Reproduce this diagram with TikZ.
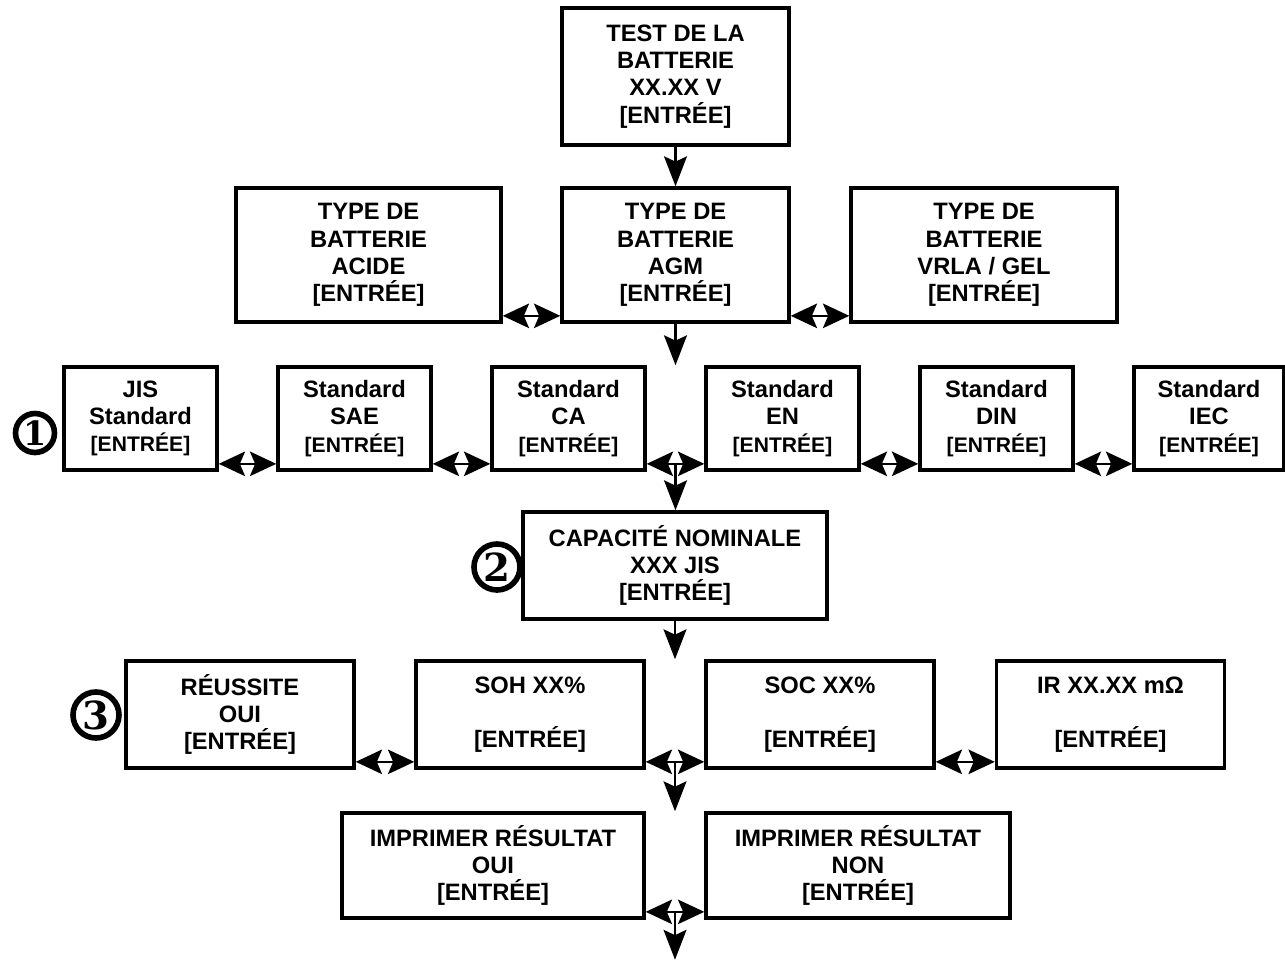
\documentclass[tikz,border=0pt]{standalone}
\usepackage{fontspec}
\setmainfont{Liberation Sans}
\newfontfamily\numfont{DejaVu Serif}
\usetikzlibrary{calc,arrows.meta}
\newcommand\entr{[ENTRÉE]}
\newcommand\sentr{{\fontsize{12}{14}\selectfont[ENTRÉE]}}
\begin{document}
\begin{tikzpicture}[x=0.02cm,y=-0.02cm,
  box/.style={draw,line width=2pt,align=center,inner sep=0pt,font=\bfseries\fontsize{13.5}{15.5}\selectfont},
  dbl/.style={{Stealth[length=15pt,width=14pt,inset=3pt]}-{Stealth[length=15pt,width=14pt,inset=3pt]},line width=1.1pt},
  down/.style={-{Stealth[length=17pt,width=13pt,inset=3pt]},line width=1.5pt},
  num/.style={circle,draw,line width=3.2pt,inner sep=0pt,font=\numfont\bfseries\fontsize{22}{22}\selectfont}]
\useasboundingbox (0,0) rectangle (1285,960);
% battery test
\node[box,minimum width=4.54cm,minimum height=2.74cm] (test) at (675.5,76.5) {TEST DE LA\\BATTERIE\\XX.XX V\\\entr};
% battery type
\node[box,minimum width=5.3cm,minimum height=2.68cm] (acide) at (368.5,255) {TYPE DE\\BATTERIE\\ACIDE\\\entr};
\node[box,minimum width=4.54cm,minimum height=2.68cm] (agm) at (675.5,255) {TYPE DE\\BATTERIE\\AGM\\\entr};
\node[box,minimum width=5.32cm,minimum height=2.68cm] (vrla) at (984,255) {TYPE DE\\BATTERIE\\VRLA / GEL\\\entr};
% standards
\node[box,minimum width=3.06cm,minimum height=2.06cm] (jis) at (140.5,418.5) {JIS\\Standard\\\sentr};
\node[box,minimum width=3.06cm,minimum height=2.06cm] (sae) at (354.5,418.5) {Standard\\SAE\\\sentr};
\node[box,minimum width=3.06cm,minimum height=2.06cm] (ca) at (568.5,418.5) {Standard\\CA\\\sentr};
\node[box,minimum width=3.06cm,minimum height=2.06cm] (en) at (782.5,418.5) {Standard\\EN\\\sentr};
\node[box,minimum width=3.06cm,minimum height=2.06cm] (din) at (996.5,418.5) {Standard\\DIN\\\sentr};
\node[box,minimum width=3.0cm,minimum height=2.06cm] (iec) at (1209,418.5) {Standard\\IEC\\\sentr};
% rated capacity
\node[box,minimum width=6.08cm,minimum height=2.14cm] (cap) at (675,565.5) {CAPACITÉ NOMINALE\\XXX JIS\\\entr};
% results
\node[box,minimum width=4.56cm,minimum height=2.14cm] (ok) at (240,714.5) {RÉUSSITE\\OUI\\\entr};
\node[box,minimum width=4.56cm,minimum height=2.14cm] (soh) at (530,714.5) {SOH XX\%\\\mbox{}\\\entr};
\node[box,minimum width=4.56cm,minimum height=2.14cm] (soc) at (820,714.5) {SOC XX\%\\\mbox{}\\\entr};
\node[box,minimum width=4.56cm,minimum height=2.14cm] (ir) at (1110.5,714.5) {IR XX.XX mΩ\\\mbox{}\\\entr};
% print
\node[box,minimum width=6.04cm,minimum height=2.1cm] (pOui) at (493,865.5) {IMPRIMER RÉSULTAT\\OUI\\\entr};
\node[box,minimum width=6.08cm,minimum height=2.1cm] (pNon) at (858,865.5) {IMPRIMER RÉSULTAT\\NON\\\entr};
% step numbers
\node[num,minimum size=0.78cm,font=\numfont\bfseries\fontsize{19}{19}\selectfont] (n1) at (35,433) {1};
\node[num,minimum size=0.92cm] (n2) at (497,567) {2};
\node[num,minimum size=0.92cm] (n3) at (96,715) {3};
% arrows
\draw[down] (test) -- (agm);
\draw[dbl] ([yshift=4.5pt]acide.south east) -- ([yshift=4.5pt]agm.south west);
\draw[dbl] ([yshift=4.5pt]agm.south east) -- ([yshift=4.5pt]vrla.south west);
\coordinate (r3) at (agm.south |- ca.north);
\draw[down] (agm.south) -- (r3);
\foreach \a/\b in {jis/sae,sae/ca,ca/en,en/din,din/iec}
  \draw[dbl] ([yshift=4.5pt]\a.south east) -- ([yshift=4.5pt]\b.south west);
\coordinate (m3) at ($(ca.south east)!0.5!(en.south west)+(0,-9)$);
\draw[down] (m3) -- (m3 |- cap.north);
\draw[down] (cap.south) -- (cap.south |- soh.north);
\foreach \a/\b in {ok/soh,soh/soc,soc/ir}
  \draw[dbl] ([yshift=4.5pt]\a.south east) -- ([yshift=4.5pt]\b.south west);
\coordinate (m4) at ($(soh.south east)!0.5!(soc.south west)+(0,-8)$);
\draw[down] (m4) -- (m4 |- pOui.north);
\draw[dbl] ([yshift=4.5pt]pOui.south east) -- ([yshift=4.5pt]pNon.south west);
\coordinate (m5) at ($(pOui.south east)!0.5!(pNon.south west)+(0,-8)$);
\coordinate (fin) at ($(m5)+(0,48)$);
\draw[down] (m5) -- (fin);
\end{tikzpicture}
\end{document}
